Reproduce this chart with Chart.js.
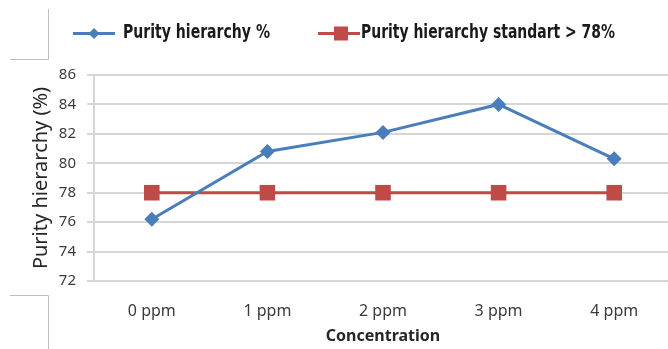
<!DOCTYPE html>
<html>
<head>
<meta charset="utf-8">
<script src="https://cdn.jsdelivr.net/npm/chart.js@4/dist/chart.umd.min.js"></script>
<style>
  html, body { margin: 0; padding: 0; background: #fff; overflow: hidden; width: 668px; height: 349px; }
  #wrap { position: absolute; left: 0; top: 0; width: 672px; height: 349px; }
</style>
</head>
<body>
<div id="wrap"><canvas id="c" width="672" height="349"></canvas></div>
<script>
const categories = ['0 ppm', '1 ppm', '2 ppm', '3 ppm', '4 ppm'];
const purityValues = [76.2, 80.8, 82.1, 84.0, 80.3];
const standardValues = [78, 78, 78, 78, 78];
const seriesNames = ['Purity hierarchy %', 'Purity hierarchy standart > 78%'];
const yTicks = [72, 74, 76, 78, 80, 82, 84, 86];
const xTitle = 'Concentration';
const yTitle = 'Purity hierarchy (%)';

const BLUE = '#4a7ebb';
const RED = '#be4b48';

const legendPlugin = {
  id: 'customLegend',
  afterDraw(chart) {
    const ctx = chart.ctx;
    ctx.save();
    // frame fragments
    ctx.strokeStyle = '#bdbdbd';
    ctx.lineWidth = 1;
    ctx.beginPath();
    ctx.moveTo(48.5, 9); ctx.lineTo(48.5, 59.5); ctx.lineTo(10, 59.5);
    ctx.moveTo(10, 295.5); ctx.lineTo(48.5, 295.5); ctx.lineTo(48.5, 349);
    ctx.stroke();

    const items = [
      { name: seriesNames[0], color: BLUE, shape: 'diamond', x0: 73, x1: 115, mx: 94, tx: 123, tw: 147 },
      { name: seriesNames[1], color: RED, shape: 'square', x0: 318, x1: 360, mx: 341, tx: 361, tw: 254 }
    ];
    const y = 33.5;
    items.forEach(it => {
      ctx.strokeStyle = it.color;
      ctx.lineWidth = 3;
      ctx.beginPath();
      ctx.moveTo(it.x0, y); ctx.lineTo(it.x1, y);
      ctx.stroke();
      ctx.fillStyle = it.color;
      ctx.beginPath();
      if (it.shape === 'diamond') {
        ctx.moveTo(it.mx - 5.5, y); ctx.lineTo(it.mx, y - 5.5);
        ctx.lineTo(it.mx + 5.5, y); ctx.lineTo(it.mx, y + 5.5);
        ctx.closePath();
      } else {
        ctx.rect(it.mx - 7, y - 7, 14, 14);
      }
      ctx.fill();
      ctx.fillStyle = '#1a1a1a';
      ctx.font = 'bold 19px "Liberation Sans Narrow", "DejaVu Sans Condensed", "Liberation Sans", sans-serif';
      ctx.textBaseline = 'middle';
      ctx.textAlign = 'left';
      const w = ctx.measureText(it.name).width;
      ctx.save();
      ctx.translate(it.tx, y);
      ctx.scale(it.tw / w, 1);
      ctx.fillText(it.name, 0, 0);
      ctx.restore();
    });
    ctx.restore();
  }
};

new Chart(document.getElementById('c'), {
  type: 'line',
  data: {
    labels: categories,
    datasets: [
      {
        label: seriesNames[0],
        data: purityValues,
        borderColor: BLUE,
        backgroundColor: BLUE,
        borderWidth: 3,
        pointStyle: 'rectRot',
        pointRadius: 7.5,
        pointHoverRadius: 7.5,
        pointBorderWidth: 0,
        tension: 0,
        order: 1
      },
      {
        label: seriesNames[1],
        data: standardValues,
        borderColor: RED,
        backgroundColor: RED,
        borderWidth: 3,
        pointStyle: 'rect',
        pointRadius: 11,
        pointHoverRadius: 11,
        pointBorderWidth: 0,
        tension: 0,
        order: 2
      }
    ]
  },
  options: {
    responsive: false,
    animation: false,
    events: [],
    layout: { autoPadding: false, padding: { top: 75, left: 0, right: 0, bottom: 0 } },
    plugins: { legend: { display: false }, tooltip: { enabled: false } },
    scales: {
      x: {
        offset: true,
        grid: { display: false, drawTicks: false },
        border: { display: true, color: '#d6d6d6', width: 2 },
        ticks: { color: '#3a3a3a', padding: 21, font: { family: 'Noto Sans', size: 16 } },
        title: { display: true, text: xTitle, color: '#262626', padding: { top: 0, bottom: 3 },
                 font: { family: 'Noto Sans', size: 16, weight: 'bold' } },
        afterFit: s => { s.height = 68; s.paddingLeft = 0; s.paddingRight = 0; }
      },
      y: {
        min: 72, max: 86,
        afterBuildTicks: s => { s.ticks = yTicks.map(v => ({ value: v })); },
        grid: { color: '#d6d6d6', lineWidth: 2, tickLength: 7, drawTicks: true },
        border: { display: true, color: '#d6d6d6', width: 2 },
        ticks: { color: '#3a3a3a', padding: 11, font: { family: 'Noto Sans', size: 15 } },
        title: { display: true, text: yTitle, color: '#262626', padding: { top: 29, bottom: 0 },
                 font: { family: 'Noto Sans', size: 20 } },
        afterFit: s => { s.width = 94; s.paddingTop = 0; s.paddingBottom = 0; }
      }
    }
  },
  plugins: [legendPlugin]
});
</script>
</body>
</html>
